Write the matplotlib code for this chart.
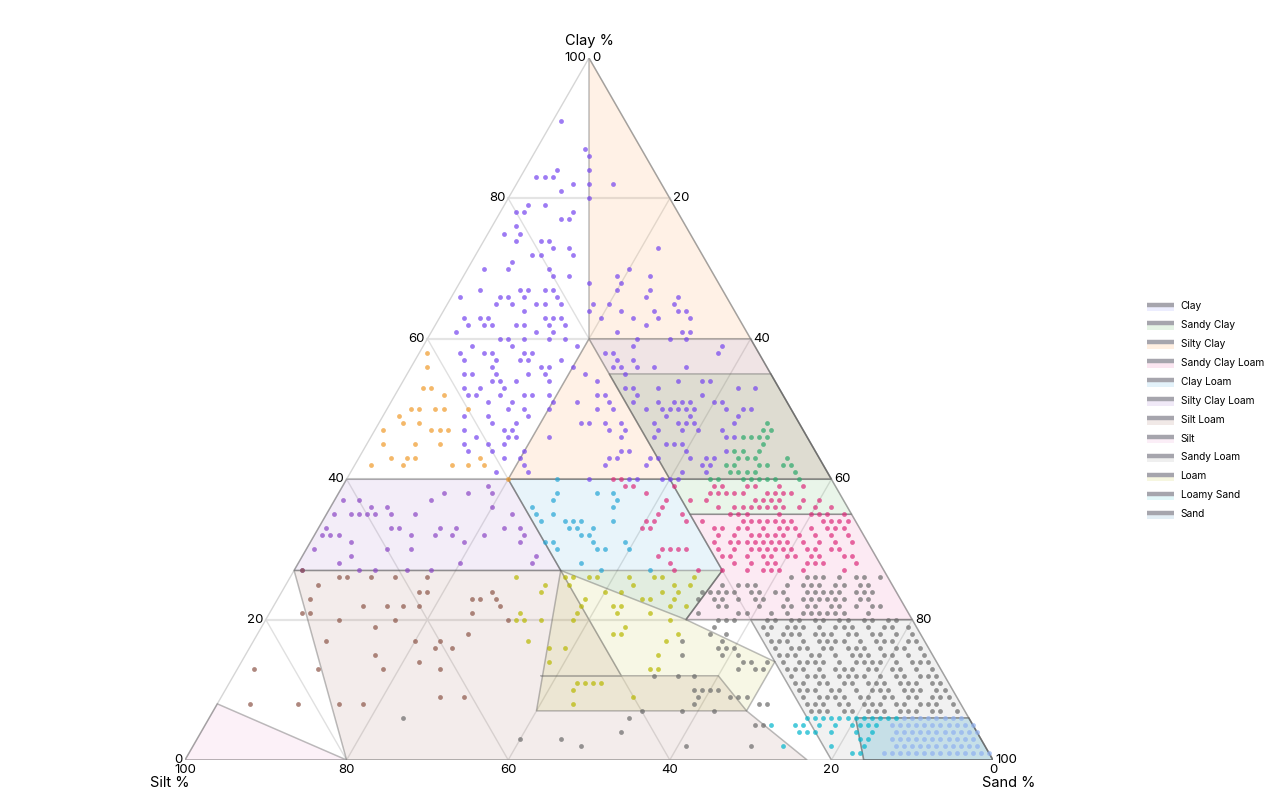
import matplotlib
matplotlib.use("Agg")
import matplotlib.pyplot as plt
from matplotlib.patches import Polygon, Patch, Rectangle
from matplotlib.lines import Line2D
from matplotlib.legend_handler import HandlerBase
import numpy as np

plt.rcParams['font.family'] = ['Inter', 'DejaVu Sans']

# ---- classes, colours -------------------------------------------------------
classes = ["Clay", "Sandy Clay", "Silty Clay", "Sandy Clay Loam", "Clay Loam",
           "Silty Clay Loam", "Silt Loam", "Silt", "Sandy Loam", "Loam",
           "Loamy Sand", "Sand"]
fill_colors = ["#636efa", "#2ca02c", "#ff7f0e", "#e6338f", "#1f9bd6", "#8a4fc0",
               "#8c4a3c", "#e377c2", "#7f7f7f", "#b5b500", "#17becf", "#1f77b4"]
point_colors = ["#7443ef", "#2aa86a", "#f09a2a", "#dd2a7b", "#23a5d5", "#8a45c5",
                "#8c5548", "#e060c0", "#6a6a6a", "#b8b800", "#00b5cc", "#8fb0f0"]

# ---- region outlines, (clay %, sand %) ---------------------------------------
poly_clay = [(60, 20), (60, 40), (40, 60), (40, 40)]
poly_sandy_clay = [(55, 25), (55, 45), (35, 65), (35, 45)]
poly_silty_clay = [(100, 0), (40, 60), (40, 20), (60, 20)]
poly_sandy_clay_loam = [(35, 45), (35, 65), (20, 80), (20, 52), (27, 53)]
poly_clay_loam = [(40, 20), (40, 40), (27, 53), (20, 52), (27, 33)]
poly_silty_clay_loam = [(40, 0), (40, 20), (27, 33), (27, 0)]
poly_silt_loam = [(27, 0), (27, 33), (12, 48), (12, 38), (12, 60), (7, 66), (0, 77), (0, 20)]
poly_silt = [(0, 0), (8, 0), (0, 20)]
poly_sandy_loam = [(20, 60), (20, 80), (0, 100), (0, 80)]
poly_loam = [(27, 33), (27, 53), (20, 52), (14, 66), (7, 66), (7, 40)]
poly_loamy_sand = [(6, 80), (6, 94), (0, 100), (0, 84)]
poly_sand = [(6, 80), (6, 94), (0, 100), (0, 84)]

# ---- samples, (clay %, sand %) ------------------------------------------------
pts_clay = [
    (91, 1), (87, 6), (86, 7), (84, 8), (82, 9), (80, 10), (83, 2), (83, 3), (84, 4), (83, 4),
    (82, 7), (82, 12), (81, 6), (79, 5), (79, 3), (78, 2), (78, 3), (78, 9), (77, 8), (77, 9),
    (76, 3), (75, 2), (75, 4), (74, 4), (74, 7), (74, 8), (73, 9), (73, 11), (72, 12), (72, 7),
    (72, 8), (71, 5), (70, 2), (70, 5), (70, 10), (69, 11), (69, 13), (70, 20), (73, 22), (69, 19),
    (69, 23), (68, 20), (68, 16), (67, 20), (67, 24), (66, 24), (66, 28), (65, 28), (65, 20), (65, 18),
    (64, 18), (64, 22), (64, 26), (64, 29), (64, 30), (63, 20), (63, 24), (63, 27), (63, 31), (62, 26),
    (61, 23), (61, 31), (61, 32), (67, 3), (63, 5), (63, 6), (62, 6), (62, 7), (65, 6), (66, 6),
    (66, 7), (65, 8), (67, 8), (67, 9), (66, 9), (64, 10), (65, 11), (65, 12), (67, 12), (66, 13),
    (65, 14), (63, 15), (62, 16), (63, 14), (63, 13), (62, 14), (62, 11), (62, 10), (61, 13), (60, 15),
    (61, 15), (60, 17), (60, 9), (60, 10), (60, 12), (67, 11), (59, 19),
    (56, 10), (54, 12), (54, 11), (52, 13), (50, 15), (51, 15), (48, 17), (47, 16), (47, 17), (46, 17),
    (46, 18), (45, 15), (43, 20), (44, 20), (42, 21), (41, 22), (58, 14), (58, 13), (57, 13), (57, 14),
    (56, 16), (56, 17), (55, 17), (55, 15), (54, 18), (52, 16), (52, 17), (51, 20), (50, 20), (50, 17),
    (46, 22), (58, 23), (58, 24), (59, 26), (60, 26), (60, 30), (60, 32), (57, 25), (57, 27), (56, 28),
    (56, 25), (56, 26), (55, 27), (56, 30), (56, 34), (59, 37), (58, 37), (53, 29), (53, 32), (54, 34),
    (54, 37), (54, 38), (53, 42), (53, 44), (53, 28), (52, 30), (51, 30), (52, 38), (51, 33), (51, 35),
    (51, 36), (51, 37), (51, 40), (51, 41), (50, 32), (50, 34), (50, 35), (50, 36), (50, 37), (50, 38),
    (50, 42), (50, 44), (50, 45), (49, 35), (49, 38), (49, 44), (48, 37), (48, 34), (48, 38), (48, 39),
    (48, 44), (47, 35), (47, 38), (47, 40), (47, 43), (46, 44), (46, 45), (46, 35), (45, 37), (45, 38),
    (45, 39), (44, 40), (44, 45), (43, 41), (43, 43), (43, 44), (42, 43), (42, 44), (41, 44), (41, 41),
    (40, 41), (40, 40), (56, 20), (55, 22), (54, 24), (52, 25), (52, 26), (51, 23), (51, 27), (50, 26),
    (50, 28), (48, 25), (48, 26), (48, 28), (48, 30), (47, 29), (47, 31), (46, 31), (44, 32), (44, 33),
    (43, 32), (43, 31), (42, 31), (43, 36), (42, 36), (43, 37), (40, 36), (40, 39), (40, 35), (40, 30),
    (58, 5), (57, 6), (55, 7), (53, 8), (52, 9), (49, 10), (47, 11), (45, 12), (44, 13), (58, 8),
    (66, 1), (63, 3), (62, 4), (61, 3), (59, 6), (58, 9), (55, 8), (53, 10), (52, 10), (57, 10),
    (55, 11), (54, 14), (53, 13), (51, 12), (49, 13), (48, 14), (46, 13), (45, 17), (44, 16), (43, 18),
    (41, 18), (49, 18), (52, 19), (57, 18), (59, 11),
]
pts_sandy_clay = [
    (48, 48), (47, 49), (47, 48), (46, 46), (46, 47), (46, 48), (46, 49), (45, 49), (44, 46), (44, 47),
    (44, 49), (43, 47), (43, 48), (43, 49), (43, 53), (42, 46), (42, 47), (42, 50), (42, 51), (42, 53),
    (42, 54), (41, 47), (41, 48), (41, 49), (41, 50), (41, 55), (40, 45), (40, 46), (40, 49), (40, 50),
    (40, 51), (40, 52), (40, 53), (40, 56),
]
pts_silty_clay = [
    (58, 1), (56, 2), (53, 3), (53, 4), (52, 6), (50, 3), (50, 4), (50, 6), (50, 7), (50, 10),
    (49, 2), (48, 3), (48, 5), (47, 7), (47, 8), (47, 9), (47, 1), (45, 9), (45, 2), (45, 6),
    (43, 6), (43, 7), (43, 4), (42, 2), (42, 6), (42, 12), (42, 14), (42, 16), (40, 20), (43, 15),
]
pts_sandy_clay_loam = [
    (39, 41), (39, 46), (39, 47), (39, 50), (39, 51), (39, 54), (39, 57),
    (38, 46), (38, 47), (38, 48), (38, 49), (38, 50), (38, 53), (38, 54), (38, 55), (38, 56),
    (37, 44), (37, 46), (37, 52), (37, 53), (37, 54), (37, 55), (37, 58), (37, 60),
    (36, 48), (36, 50), (36, 51), (36, 52), (36, 53), (36, 54), (36, 55), (36, 56), (36, 58), (36, 60),
    (36, 62),
    (35, 50), (35, 51), (35, 52), (35, 56), (35, 60), (35, 61), (35, 62), (35, 64),
    (34, 47), (34, 52), (34, 53), (34, 54), (34, 55), (34, 56), (34, 57), (34, 58), (34, 62), (34, 63),
    (34, 64), (34, 65),
    (33, 49), (33, 50), (33, 52), (33, 53), (33, 55), (33, 57), (33, 58), (33, 59), (33, 61), (33, 63),
    (33, 64), (33, 65),
    (32, 50), (32, 52), (32, 54), (32, 55), (32, 56), (32, 57), (32, 58), (32, 60), (32, 62), (32, 64),
    (32, 66),
    (31, 50), (31, 52), (31, 53), (31, 54), (31, 55), (31, 56), (31, 57), (31, 58), (31, 59), (31, 61),
    (31, 63), (31, 65), (31, 67),
    (30, 51), (30, 53), (30, 55), (30, 56), (30, 57), (30, 58), (30, 59), (30, 60), (30, 62), (30, 63),
    (30, 65), (30, 66),
    (29, 52), (29, 53), (29, 55), (29, 57), (29, 58), (29, 60), (29, 61), (29, 63), (29, 64), (29, 67),
    (29, 68),
    (28, 54), (28, 56), (28, 58), (28, 59), (28, 63), (28, 64), (28, 65), (28, 69),
    (27, 53), (27, 56), (27, 58), (27, 59), (27, 60), (27, 63), (27, 68),
    (40, 33), (40, 34), (39, 35), (39, 36), (38, 38), (37, 41), (36, 41), (35, 41), (34, 41), (34, 40),
    (35, 44), (34, 45), (33, 40), (33, 41), (30, 44), (30, 45), (30, 46), (30, 47), (29, 44), (28, 46),
    (27, 47), (27, 50),
]
pts_clay_loam = [
    (40, 26), (38, 27), (38, 32), (38, 34), (37, 27), (37, 35), (36, 25), (36, 35), (35, 26), (35, 28),
    (34, 27), (34, 30), (34, 31), (34, 32), (34, 36), (33, 31), (33, 32), (33, 34), (32, 34), (32, 33),
    (31, 29), (31, 30), (31, 35), (31, 39), (30, 31), (30, 36), (30, 37), (30, 40), (28, 35), (27, 38),
    (27, 44),
]
pts_silty_clay_loam = [
    (37, 3), (35, 4), (35, 6), (36, 7), (35, 8), (35, 11), (37, 12), (38, 13), (38, 16), (39, 18),
    (38, 19), (36, 20), (35, 23), (33, 25), (32, 26), (31, 26), (33, 23), (32, 21), (31, 19), (33, 17),
    (32, 17), (33, 15), (32, 15), (32, 12), (30, 13), (33, 10), (33, 9), (30, 10), (35, 5), (36, 5),
    (35, 3), (37, 1), (35, 1), (33, 1), (32, 1), (32, 2), (32, 3), (31, 5), (30, 1), (29, 6),
    (28, 5), (27, 8), (27, 1), (27, 10), (27, 14), (27, 17), (28, 20), (28, 29), (29, 29),
]
pts_silt_loam = [
    (27, 1), (26, 6), (26, 7), (26, 10), (26, 13), (26, 17), (25, 4), (23, 4), (24, 17), (24, 18),
    (23, 24), (23, 25), (24, 26), (23, 27), (22, 28), (22, 11), (22, 14), (22, 16), (22, 18), (21, 4),
    (21, 5), (20, 9), (20, 16), (21, 25), (20, 30), (19, 14), (17, 9), (17, 20), (17, 23), (16, 23),
    (16, 25), (18, 26), (15, 16), (14, 22), (13, 10), (13, 18), (13, 25), (9, 27), (9, 30), (8, 10),
    (8, 15), (8, 18), (13, 2), (8, 4),
]
pts_silt = []
pts_sandy_loam = [
    # bottom of the silt loam zone
    (6, 24), (3, 40), (3, 45), (2, 48), (4, 52), (2, 61), (6, 52), (7, 53), (2, 69),
    # inside the sandy clay loam zone
    (26, 62), (26, 64), (26, 65), (26, 66), (26, 68), (26, 70), (26, 71), (26, 73),
    (25, 54), (25, 56), (25, 57), (25, 58), (25, 62), (25, 64), (25, 65), (25, 66), (25, 68), (25, 69),
    (25, 71), (25, 72),
    (24, 52), (24, 53), (24, 54), (24, 55), (24, 56), (24, 58), (24, 59), (24, 61), (24, 62), (24, 65),
    (24, 66), (24, 67), (24, 68), (24, 69), (24, 71), (24, 72), (24, 73),
    (23, 52), (23, 54), (23, 55), (23, 57), (23, 59), (23, 60), (23, 63), (23, 65), (23, 66), (23, 67),
    (23, 68), (23, 69), (23, 70), (23, 72), (23, 73),
    (22, 55), (22, 56), (22, 60), (22, 63), (22, 64), (22, 66), (22, 67), (22, 69), (22, 70), (22, 72),
    (22, 74), (22, 75),
    (21, 53), (21, 58), (21, 59), (21, 62), (21, 64), (21, 66), (21, 67), (21, 68), (21, 69), (21, 70),
    (21, 71), (21, 74),
    # white gap and loam zone
    (20, 56), (20, 57), (20, 58), (19, 56), (18, 56), (18, 58), (17, 58), (17, 53), (16, 58), (16, 59),
    (16, 60), (15, 61), (15, 59), (15, 54), (14, 62), (14, 63), (14, 65), (13, 62), (13, 64), (13, 65),
    (12, 52), (12, 55), (12, 57), (10, 58), (10, 59), (10, 60), (10, 61), (9, 59), (8, 59), (9, 63),
    (9, 64), (9, 65), (8, 67), (8, 68), (5, 68), (5, 69), (7, 58), (7, 62),
    # sandy loam zone
    (20, 62), (20, 63), (20, 65), (20, 66), (20, 68), (20, 69), (20, 71), (20, 72), (20, 74), (20, 75),
    (20, 77), (20, 78),
    (19, 62), (19, 63), (19, 65), (19, 66), (19, 67), (19, 69), (19, 71), (19, 72), (19, 73), (19, 75),
    (19, 77), (19, 78), (19, 80),
    (18, 63), (18, 65), (18, 66), (18, 67), (18, 69), (18, 70), (18, 71), (18, 73), (18, 74), (18, 76),
    (18, 77), (18, 79), (18, 81),
    (17, 64), (17, 65), (17, 66), (17, 68), (17, 70), (17, 71), (17, 72), (17, 73), (17, 75), (17, 77),
    (17, 78), (17, 79), (17, 81), (17, 82),
    (16, 65), (16, 67), (16, 68), (16, 69), (16, 71), (16, 72), (16, 74), (16, 75), (16, 76), (16, 78),
    (16, 80), (16, 81), (16, 83),
    (15, 66), (15, 67), (15, 68), (15, 70), (15, 71), (15, 73), (15, 75), (15, 76), (15, 77), (15, 79),
    (15, 80), (15, 82), (15, 84),
    (14, 67), (14, 69), (14, 70), (14, 71), (14, 72), (14, 74), (14, 76), (14, 77), (14, 78), (14, 79),
    (14, 81), (14, 83), (14, 84), (14, 85),
    (13, 68), (13, 69), (13, 70), (13, 72), (13, 74), (13, 75), (13, 76), (13, 78), (13, 79), (13, 81),
    (13, 82), (13, 84), (13, 86),
    (12, 69), (12, 71), (12, 72), (12, 73), (12, 75), (12, 76), (12, 77), (12, 78), (12, 80), (12, 82),
    (12, 83), (12, 85), (12, 86), (12, 87),
    (11, 70), (11, 71), (11, 73), (11, 74), (11, 76), (11, 77), (11, 79), (11, 80), (11, 81), (11, 83),
    (11, 84), (11, 85), (11, 87), (11, 88),
    (10, 71), (10, 72), (10, 73), (10, 75), (10, 76), (10, 78), (10, 80), (10, 81), (10, 82), (10, 84),
    (10, 85), (10, 86), (10, 88), (10, 89),
    (9, 72), (9, 74), (9, 75), (9, 76), (9, 77), (9, 79), (9, 80), (9, 82), (9, 83), (9, 85),
    (9, 86), (9, 88), (9, 89), (9, 90),
    (8, 73), (8, 74), (8, 75), (8, 77), (8, 78), (8, 80), (8, 81), (8, 82), (8, 84), (8, 85),
    (8, 87), (8, 88), (8, 89), (8, 91),
    (7, 74), (7, 75), (7, 76), (7, 78), (7, 79), (7, 81), (7, 82), (7, 83), (7, 85), (7, 86),
    (7, 87), (7, 89), (7, 90), (7, 92),
]
pts_loam = [
    (26, 28), (26, 34), (26, 35), (26, 37), (26, 38), (26, 42), (26, 45), (26, 46), (26, 50), (25, 32),
    (25, 35), (25, 43), (25, 48), (25, 50), (24, 32), (23, 38), (24, 42), (23, 45), (23, 46), (24, 47),
    (24, 49), (23, 49), (22, 38), (21, 38), (22, 42), (22, 43), (21, 43), (21, 47), (20, 50), (22, 51),
    (21, 31), (20, 31), (20, 32), (20, 34), (17, 34), (20, 38), (18, 44), (18, 45), (19, 45), (17, 51),
    (18, 52), (16, 37), (16, 39), (14, 38), (15, 51), (13, 51), (13, 52), (11, 43), (11, 44), (11, 45),
    (11, 46), (10, 43), (9, 51), (8, 44), (24, 40), (22, 49),
]
pts_loamy_sand = [
    (6, 74), (6, 75), (6, 76), (6, 77), (6, 78), (6, 79), (6, 80), (6, 81), (6, 82), (6, 83),
    (6, 84), (6, 85), (5, 70), (5, 73), (5, 74), (5, 76), (5, 78), (5, 80), (5, 81), (5, 82),
    (5, 83), (4, 74), (4, 75), (4, 76), (4, 78), (4, 81), (4, 83), (3, 82), (3, 83), (2, 79),
    (2, 83), (2, 73), (1, 82), (1, 83),
]
pts_sand = [
    (6, 86), (6, 87), (6, 88), (6, 89), (6, 90), (6, 91), (6, 92), (6, 93),
    (5, 85), (5, 86), (5, 87), (5, 88), (5, 89), (5, 90), (5, 91), (5, 92), (5, 93), (5, 94), (5, 95),
    (4, 86), (4, 87), (4, 88), (4, 89), (4, 90), (4, 91), (4, 92), (4, 93), (4, 94), (4, 95), (4, 96),
    (3, 86), (3, 87), (3, 88), (3, 89), (3, 90), (3, 91), (3, 92), (3, 93), (3, 94), (3, 95), (3, 96),
    (2, 87), (2, 88), (2, 89), (2, 90), (2, 91), (2, 92), (2, 93), (2, 94), (2, 95), (2, 96), (2, 97),
    (1, 86), (1, 87), (1, 88), (1, 89), (1, 90), (1, 91), (1, 92), (1, 93), (1, 94), (1, 95), (1, 96),
    (1, 97), (1, 98), (1, 99),
]

polys = [poly_clay, poly_sandy_clay, poly_silty_clay, poly_sandy_clay_loam, poly_clay_loam,
         poly_silty_clay_loam, poly_silt_loam, poly_silt, poly_sandy_loam, poly_loam,
         poly_loamy_sand, poly_sand]
samples = [pts_clay, pts_sandy_clay, pts_silty_clay, pts_sandy_clay_loam, pts_clay_loam,
           pts_silty_clay_loam, pts_silt_loam, pts_silt, pts_sandy_loam, pts_loam,
           pts_loamy_sand, pts_sand]

H = np.sqrt(3) / 2
EDGE = (0.35, 0.35, 0.35, 0.4)


def tern(clay, sand):
    clay = np.asarray(clay, float)
    sand = np.asarray(sand, float)
    return sand + clay / 2, clay * H


class FillLineHandler(HandlerBase):
    # grey outline stroke on top, light region fill underneath
    def create_artists(self, legend, orig_handle, xdescent, ydescent, width, height,
                       fontsize, trans):
        x0, y0 = -xdescent, -ydescent
        rect = Rectangle((x0, y0 - 0.15 * height), width, 0.55 * height,
                         facecolor=orig_handle.get_facecolor(), edgecolor="none",
                         transform=trans)
        line = Line2D([x0, x0 + width], [y0 + 0.62 * height] * 2, color="#a6a5ad",
                      lw=3.2, solid_capstyle="butt", transform=trans)
        return [rect, line]


fig = plt.figure(figsize=(12.8, 8), dpi=100)
ax = fig.add_axes([185 / 1280, 40 / 800, 808 / 1280, 702 / 800])
ax.set_xlim(0, 100)
ax.set_ylim(0, 100 * H)
ax.axis("off")

# grid
grid_kw = dict(color="#e0e0e0", lw=1.0, zorder=1)
for v in (20, 40, 60, 80):
    ax.plot(*tern([v, v], [0, 100 - v]), color="#e4e4e4", lw=1.6, zorder=1)   # clay
    ax.plot(*tern([100 - v, 0], [0, 100 - v]), **grid_kw)      # silt
    ax.plot(*tern([0, 100 - v], [v, v]), **grid_kw)            # sand
ax.plot(*tern([0, 100, 0, 0], [0, 0, 100, 0]), color="#d6d6d6", lw=1.0, zorder=1)

# regions
for verts, fc in zip(polys, fill_colors):
    c, s = zip(*verts)
    x, y = tern(c, s)
    ax.add_patch(Polygon(np.column_stack([x, y]), closed=True, facecolor=fc, alpha=0.1,
                         edgecolor="none", zorder=2))
    ax.add_patch(Polygon(np.column_stack([x, y]), closed=True, facecolor="none",
                         edgecolor=EDGE, lw=1.1, zorder=3))

# samples
for pts, col in zip(samples, point_colors):
    if not pts:
        continue
    c, s = zip(*pts)
    x, y = tern(c, s)
    ax.scatter(x, y, s=12, color=col, alpha=0.7, linewidths=0, zorder=4)

# tick labels
tick_fs = 9.5
for v in (0, 20, 40, 60, 80, 100):
    x, y = tern(v, 0)
    ax.annotate(str(v), (x, y), xytext=(-2, 0), textcoords="offset points",
                ha="right", va="center", fontsize=tick_fs)
    x, y = tern(0, 100 - v)
    ax.annotate(str(v), (x, y), xytext=(0, -3), textcoords="offset points",
                ha="center", va="top", fontsize=tick_fs)
    x, y = tern(100 - v, v)
    ax.annotate(str(v), (x, y), xytext=(2, 0), textcoords="offset points",
                ha="left", va="center", fontsize=tick_fs)

fig.text(589 / 1280, 1 - 41 / 800, "Clay %", ha="center", va="center", fontsize=10.5)
fig.text(170 / 1280, 1 - 783 / 800, "Silt %", ha="center", va="center", fontsize=10.5)
fig.text(1009 / 1280, 1 - 783 / 800, "Sand %", ha="center", va="center", fontsize=10.5)

# legend
handles = [Patch(facecolor=fc, alpha=0.12) for fc in fill_colors]
fig.legend(handles, classes, handler_map={Patch: FillLineHandler()},
           loc="upper left", bbox_to_anchor=(1143 / 1280, 1 - 297 / 800), frameon=False,
           fontsize=7.3, handlelength=2.7, handleheight=0.9, handletextpad=0.6,
           labelspacing=0.88, borderaxespad=0)

fig.savefig("out.png", dpi=100)
